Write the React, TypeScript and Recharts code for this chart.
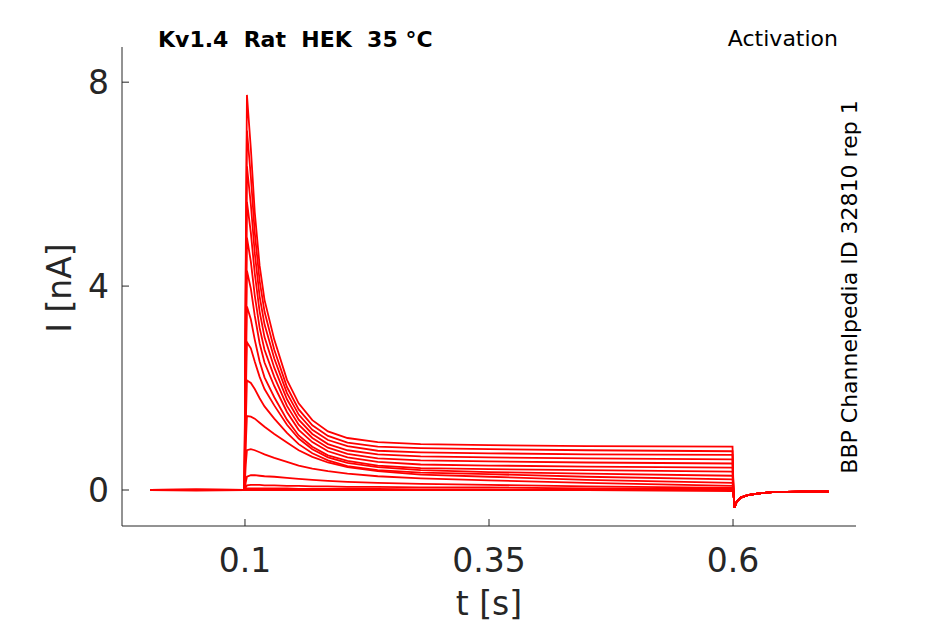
import React from 'react';
import { LineChart, Line, XAxis, YAxis } from 'recharts';

// time samples [s]
const timePoints = [0.003, 0.05, 0.0995, 0.1008, 0.102, 0.106, 0.110, 0.115, 0.120, 0.130, 0.143, 0.155, 0.169, 0.185, 0.205, 0.236, 0.28, 0.35, 0.45, 0.5995,
  0.6005, 0.6015, 0.604, 0.608, 0.615, 0.625, 0.64, 0.67, 0.698];

// current traces [nA] during the step (up to 0.5995 s)
const trace1 = [0, 0.01, 0, 4.6, 7.75, 6.70, 5.45, 4.40, 3.73, 2.95, 2.16, 1.70, 1.37, 1.15, 1.02, 0.94, 0.90, 0.88, 0.86, 0.85];
const trace2 = [0, 0.01, 0, 4.2, 7.05, 6.15, 5.05, 4.10, 3.50, 2.75, 2.02, 1.58, 1.27, 1.06, 0.93, 0.85, 0.82, 0.80, 0.78, 0.76];
const trace3 = [0, 0, 0, 3.8, 6.35, 5.60, 4.65, 3.80, 3.25, 2.58, 1.90, 1.48, 1.18, 0.98, 0.86, 0.77, 0.74, 0.72, 0.70, 0.69];
const trace4 = [0, 0, 0, 3.4, 5.65, 5.05, 4.25, 3.50, 3.00, 2.40, 1.78, 1.38, 1.10, 0.90, 0.78, 0.70, 0.66, 0.64, 0.62, 0.60];
const trace5 = [0, 0, 0, 3.0, 4.95, 4.48, 3.82, 3.18, 2.75, 2.22, 1.65, 1.28, 1.02, 0.83, 0.71, 0.62, 0.58, 0.56, 0.54, 0.52];
const trace6 = [0, 0, 0, 2.6, 4.30, 3.95, 3.42, 2.88, 2.50, 2.04, 1.53, 1.18, 0.94, 0.76, 0.64, 0.55, 0.50, 0.48, 0.46, 0.44];
const trace7 = [0, 0, 0, 2.2, 3.60, 3.35, 2.95, 2.52, 2.21, 1.82, 1.38, 1.07, 0.85, 0.68, 0.57, 0.48, 0.43, 0.41, 0.39, 0.36];
const trace8 = [0, 0, 0, 1.8, 2.90, 2.78, 2.52, 2.22, 1.98, 1.66, 1.28, 1.01, 0.80, 0.64, 0.53, 0.45, 0.39, 0.35, 0.32, 0.28];
const trace9 = [0, 0, 0, 1.3, 2.15, 2.10, 1.98, 1.80, 1.64, 1.40, 1.12, 0.90, 0.72, 0.58, 0.47, 0.39, 0.34, 0.31, 0.26, 0.21];
const trace10 = [0, 0, 0, 0.9, 1.45, 1.44, 1.40, 1.32, 1.24, 1.10, 0.93, 0.78, 0.65, 0.54, 0.45, 0.37, 0.30, 0.26, 0.20, 0.14];
const trace11 = [0, 0, 0, 0.5, 0.78, 0.80, 0.78, 0.74, 0.70, 0.63, 0.55, 0.48, 0.42, 0.37, 0.32, 0.27, 0.23, 0.19, 0.14, 0.08];
const trace12 = [0, 0, 0, 0.15, 0.26, 0.29, 0.29, 0.28, 0.27, 0.26, 0.24, 0.22, 0.20, 0.18, 0.16, 0.14, 0.12, 0.10, 0.07, 0.04];
const trace13 = [0, 0, 0, 0.05, 0.09, 0.10, 0.10, 0.10, 0.09, 0.09, 0.08, 0.08, 0.07, 0.07, 0.06, 0.06, 0.05, 0.05, 0.03, 0.02];
const trace14 = [0, 0, 0, 0.02, 0.03, 0.03, 0.03, 0.03, 0.03, 0.03, 0.03, 0.02, 0.02, 0.02, 0.02, 0.02, 0.01, 0.01, 0, 0];
const trace15 = [0, -0.01, 0, 0, 0, 0, 0, 0, 0, 0, 0, 0, 0, 0, 0, 0, 0, 0, 0, -0.02];

// tail current after the step (from 0.6005 s)
const tailValues = [-0.05, -0.34, -0.22, -0.15, -0.10, -0.07, -0.04, -0.03, -0.03];

const traces = [trace1, trace2, trace3, trace4, trace5, trace6, trace7, trace8, trace9, trace10, trace11, trace12, trace13, trace14, trace15];

const xTicks = [0.1, 0.35, 0.6];
const yTicks = [0, 4, 8];

const rows = timePoints.map((t, i) => {
  const row: Record<string, number> = { t };
  traces.forEach((tr, k) => {
    row['s' + k] = i < tr.length ? tr[i] : tailValues[i - tr.length];
  });
  return row;
});

const AXIS = '#262626';
const FONT = "'DejaVu Sans', sans-serif";

const XTick = (props: any) => {
  const { x, y, payload } = props;
  return (
    <g>
      <line x1={x} x2={x} y1={y} y2={y - 7} stroke={AXIS} strokeWidth={1} />
      <text x={x} y={y + 46} textAnchor="middle" fontSize={33} fill={AXIS} fontFamily={FONT}>{payload.value}</text>
    </g>
  );
};

const YTick = (props: any) => {
  const { x, y, payload } = props;
  return (
    <g>
      <line x1={x} x2={x + 7} y1={y} y2={y} stroke={AXIS} strokeWidth={1} />
      <text x={x - 13} y={y + 12} textAnchor="end" fontSize={33} fill={AXIS} fontFamily={FONT}>{payload.value}</text>
    </g>
  );
};

export default function App() {
  return (
    <div style={{ position: 'absolute', left: 0, top: 0, width: 945, height: 624, background: '#fff' }}>
      <LineChart width={945} height={624} data={rows} margin={{ top: 47, right: 89, bottom: 38, left: 0 }}>
        <XAxis
          dataKey="t"
          type="number"
          domain={[-0.026, 0.726]}
          ticks={xTicks}
          allowDataOverflow
          height={60}
          tickSize={0}
          tickMargin={0}
          tick={<XTick />}
          axisLine={{ stroke: AXIS, strokeWidth: 1 }}
          tickLine={false}
        />
        <YAxis
          type="number"
          domain={[-0.706, 8.69]}
          ticks={yTicks}
          allowDataOverflow
          width={122}
          tickSize={0}
          tickMargin={0}
          tick={<YTick />}
          axisLine={{ stroke: AXIS, strokeWidth: 1 }}
          tickLine={false}
        />
        {traces.map((_, k) => (
          <Line
            key={k}
            type="linear"
            dataKey={'s' + k}
            stroke="#ff0000"
            strokeWidth={1.8}
            dot={false}
            activeDot={false}
            isAnimationActive={false}
          />
        ))}
      </LineChart>
      <svg width={945} height={624} style={{ position: 'absolute', left: 0, top: 0, pointerEvents: 'none' }}>
        <text x={158} y={47} fontSize={22} fontWeight="bold" fill="#000" fontFamily={FONT} style={{ whiteSpace: 'pre' }}>
          {'Kv1.4  Rat  HEK  35 °C'}
        </text>
        <text x={838} y={46} fontSize={22} textAnchor="end" fill="#000" fontFamily={FONT}>Activation</text>
        <text x={489} y={615} fontSize={33} textAnchor="middle" fill={AXIS} fontFamily={FONT}>t [s]</text>
        <text transform="translate(71,288) rotate(-90)" fontSize={33} textAnchor="middle" fill={AXIS} fontFamily={FONT}>I [nA]</text>
        <text transform="translate(857,287) rotate(-90)" fontSize={22} textAnchor="middle" fill="#000" fontFamily={FONT}>BBP Channelpedia ID 32810 rep 1</text>
      </svg>
    </div>
  );
}
